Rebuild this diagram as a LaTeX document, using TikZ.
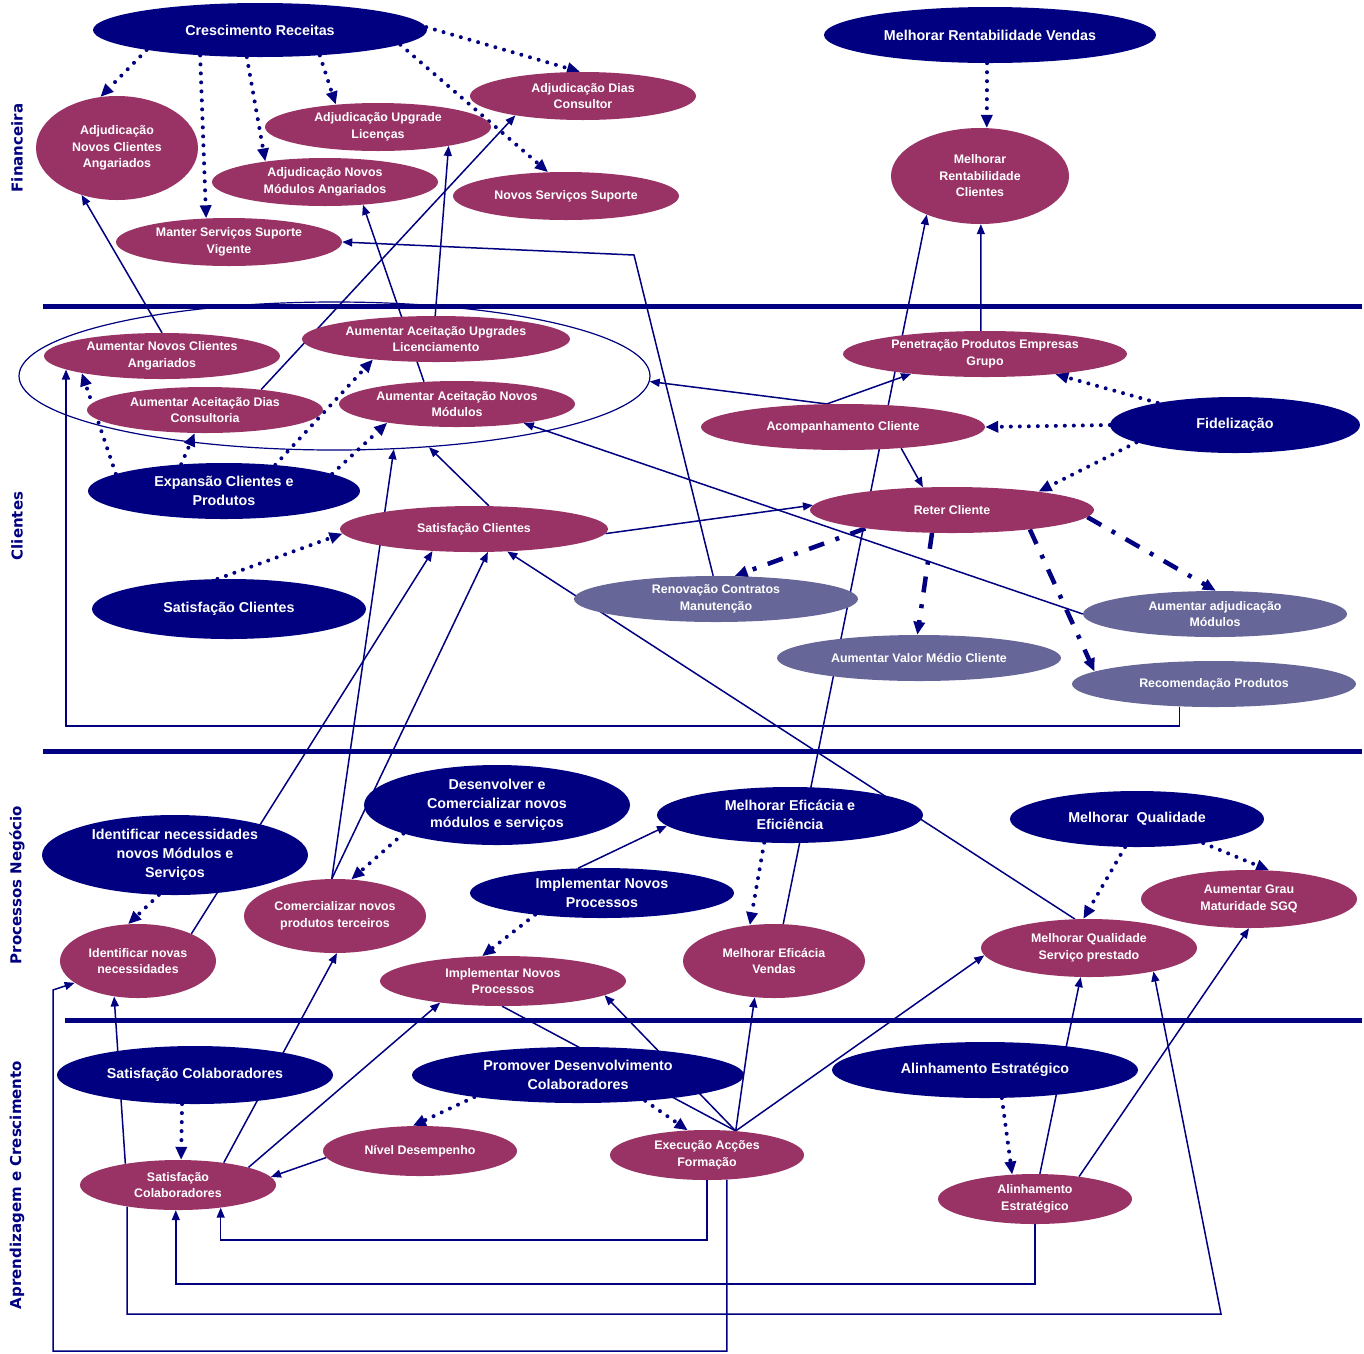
\documentclass[tikz,border=0pt]{standalone}
\usepackage{fontspec}
\setmainfont{Liberation Sans}
\newfontfamily\sidefamily{DejaVu Sans}
\usetikzlibrary{shapes.geometric,arrows.meta}
\definecolor{navy}{HTML}{000080}
\definecolor{plum}{HTML}{993366}
\definecolor{slate}{HTML}{666699}
\newcommand\dkfont{\fontsize{14.3}{19}\selectfont\bfseries}
\newcommand\mgfont{\fontsize{12.4}{16.5}\selectfont\bfseries}
\newcommand\labfont{\sidefamily\fontsize{15}{18}\selectfont\bfseries}
\pgfdeclarelayer{bg}
\pgfsetlayers{bg,main}
\tikzset{
  sz/.style 2 args={minimum width=#1pt, minimum height=#2pt},
  obj/.style={ellipse, inner sep=0pt, align=center, text=white},
  dk/.style={obj, fill=navy, font=\dkfont},
  mg/.style={obj, fill=plum, font=\mgfont},
  lv/.style={obj, fill=slate, font=\mgfont},
  ring/.style={ellipse, inner sep=0pt, draw=navy, line width=1.2pt},
  lab/.style={rotate=90, text=navy, font=\labfont},
  sepline/.style={draw=navy, line width=5pt},
  link/.style={draw=navy, line width=1.5pt, -{Triangle[length=10pt,width=8pt]}},
  plain/.style={draw=navy, line width=1.5pt},
  dots/.style={draw=navy, line width=4pt, line cap=round, dash pattern=on 0pt off 9pt,
    -{Triangle[length=13pt,width=11pt]}},
  dashdot/.style={draw=navy, line width=4.5pt, dash pattern=on 16pt off 12pt on 4pt off 12pt,
    -{Triangle[length=13pt,width=11pt]}}
}
\begin{document}
\begin{tikzpicture}[x=1pt,y=-1pt]
\useasboundingbox (0,0) rectangle (1364,1353);

% perspective labels
\node[lab] (lfin) at (17,148) {Financeira};
\node[lab] (lcli) at (17,526) {Clientes};
\node[lab] (lpro) at (17,885) {Processos Negócio};
\node[lab] (lapr) at (17,1185) {Aprendizagem e Crescimento};

% ---------- Financeira ----------
\node[dk,sz={334}{54}] (CR) at (260,30) {Crescimento Receitas};
\node[dk,sz={332}{56}] (MRV) at (990,35) {Melhorar Rentabilidade Vendas};
\node[mg,sz={162}{104}] (ANCA) at (117,148) {Adjudicação\\Novos Clientes\\Angariados};
\node[mg,sz={226}{48}] (AUL) at (378,127) {Adjudicação Upgrade\\Licenças};
\node[mg,sz={226}{48}] (ADC) at (583,96) {Adjudicação Dias\\Consultor};
\node[mg,sz={226}{48}] (ANMA) at (325,182) {Adjudicação Novos\\Módulos Angariados};
\node[mg,sz={226}{48}] (NSS) at (566,196) {Novos Serviços Suporte};
\node[mg,sz={226}{48}] (MSSV) at (229,242) {Manter Serviços Suporte\\Vigente};
\node[mg,sz={178}{96}] (MRC) at (980,176) {Melhorar\\Rentabilidade\\Clientes};

% ---------- Clientes ----------
\node[ring,sz={631}{148}] (BIG) at (334.5,376) {};
\node[mg,sz={236}{46}] (ANC2) at (162,356) {Aumentar Novos Clientes\\Angariados};
\node[mg,sz={268}{46}] (AAUL) at (436,339) {Aumentar Aceitação Upgrades\\Licenciamento};
\node[mg,sz={236}{46}] (AADC) at (205,410) {Aumentar Aceitação Dias\\Consultoria};
\node[mg,sz={236}{46}] (AANM) at (457,404) {Aumentar Aceitação Novos\\Módulos};
\node[dk,sz={272}{56}] (ECP) at (224,491) {Expansão Clientes e\\Produtos};
\node[mg,sz={268}{46}] (SC) at (474,529) {Satisfação Clientes};
\node[dk,sz={274}{60}] (SCd) at (229,609) {Satisfação Clientes};
\node[mg,sz={284}{46}] (PPEG) at (985,354) {Penetração Produtos Empresas\\Grupo};
\node[mg,sz={284}{46}] (AC) at (843,427) {Acompanhamento Cliente};
\node[dk,sz={250}{56}] (Fid) at (1235,425) {Fidelização};
\node[mg,sz={284}{46}] (RC) at (952,510) {Reter Cliente};
\node[lv,sz={284}{46}] (RCM) at (716,599) {Renovação Contratos\\Manutenção};
\node[lv,sz={284}{46}] (AVMC) at (919,658) {Aumentar Valor Médio Cliente};
\node[lv,sz={264}{46}] (AAM) at (1215,614) {Aumentar adjudicação\\Módulos};
\node[lv,sz={284}{46}] (RP) at (1214,684) {Recomendação Produtos};

% ---------- Processos Negócio ----------
\node[dk,sz={266}{80}] (INMS) at (175,855) {Identificar necessidades\\novos Módulos e\\Serviços};
\node[dk,sz={266}{80}] (DCN) at (497,805) {Desenvolver e\\Comercializar novos\\módulos e serviços};
\node[dk,sz={264}{50}] (INP) at (602,893) {Implementar Novos\\Processos};
\node[dk,sz={266}{56}] (MEE) at (790,815) {Melhorar Eficácia e\\Eficiência};
\node[dk,sz={254}{56}] (MQ) at (1137,819) {Melhorar \ Qualidade};
\node[mg,sz={216}{58}] (AGMS) at (1249,899) {Aumentar Grau\\Maturidade SGQ};
\node[mg,sz={156}{74}] (INN) at (138,961) {Identificar novas\\necessidades};
\node[mg,sz={182}{74}] (CNPT) at (335,916) {Comercializar novos\\produtos terceiros};
\node[mg,sz={246}{50}] (INP2) at (503,981) {Implementar Novos\\Processos};
\node[mg,sz={182}{74}] (MEV) at (774,961) {Melhorar Eficácia\\Vendas};
\node[mg,sz={216}{58}] (MQSP) at (1089,948) {Melhorar Qualidade\\Serviço prestado};

% ---------- Aprendizagem e Crescimento ----------
\node[dk,sz={276}{58}] (SCol) at (195,1075) {Satisfação Colaboradores};
\node[dk,sz={332}{56}] (PDC) at (578,1075) {Promover Desenvolvimento\\Colaboradores};
\node[dk,sz={306}{56}] (AE) at (985,1070) {Alinhamento Estratégico};
\node[mg,sz={196}{50}] (SCol2) at (178,1185) {Satisfação\\Colaboradores};
\node[mg,sz={194}{50}] (ND) at (420,1151) {Nível Desempenho};
\node[mg,sz={194}{50}] (EAF) at (707,1155) {Execução Acções\\Formação};
\node[mg,sz={194}{50}] (AE2) at (1035,1199) {Alinhamento\\Estratégico};

% routing points
\coordinate (w1) at (634,255);
\coordinate (b1) at (66,726);
\coordinate (b2) at (53,1351);
\coordinate (b3) at (53,990);
\coordinate (b4) at (0,1240);
\coordinate (b5) at (0,1284);
\coordinate (b6) at (0,1314);
\coordinate (b7) at (1221,1314);

\begin{pgfonlayer}{bg}
% perspective separators
\draw[sepline] (43,306) -- (1362,306);
\draw[sepline] (43,751) -- (1362,751);
\draw[sepline] (65,1020) -- (1362,1020);

% dotted: objective to indicator
\draw[dots] (CR.190) -- (ANCA.108);
\draw[dots] (CR.203) -- (MSSV.134);
\draw[dots] (CR.244) -- (ANMA.161);
\draw[dots] (CR.337) -- (AUL.152);
\draw[dots] (CR.354) -- (NSS.127);
\draw[dots] (CR.1) -- (ADC.97);
\draw[dots] (MRV.264) -- (MRC.82);
\draw[dots] (ECP.171) -- (ANC2.192);
\draw[dots] (ECP.148) -- (AADC.246);
\draw[dots] (ECP.27) -- (AAUL.198);
\draw[dots] (ECP.9) -- (AANM.195);
\draw[dots] (SCd.111) -- (SC.182);
\draw[dots] (Fid.164) -- (PPEG.344);
\draw[dots] (Fid.west) -- (AC.east);
\draw[dots] (Fid.190) -- (RC.12);
\draw[dots] (INMS.248) -- (INN.105);
\draw[dots] (DCN.197) -- (CNPT.66);
\draw[dots] (INP.198) -- (INP2.130);
\draw[dots] (MEE.227) -- (MEV.124);
\draw[dots] (MQ.247) -- (MQSP.101);
\draw[dots] (MQ.340) -- (AGMS.55);
\draw[dots] (SCol.246) -- (SCol2.83);
\draw[dots] (PDC.192) -- (ND.106);
\draw[dots] (PDC.339) -- (EAF.128);
\draw[dots] (AE.301) -- (AE2.133);

% dash-dot from Reter Cliente
\draw[dashdot] (RC.192) -- (RCM.51);
\draw[dashdot] (RC.229) -- (AVMC.94);
\draw[dashdot] (RC.346) -- (RP.174);
\draw[dashdot] (RC.357) -- (AAM.88);

% cause and effect links
\draw[link] (ANC2.north) -- (ANCA.233);
\draw[link] (AADC.20) -- (ADC.196);
\draw[link] (AANM.146) -- (ANMA.329);
\draw[link] (AAUL.92) -- (AUL.345);
\draw[link] (RCM.97) -- (w1) -- (MSSV.east);
\draw[link] (PPEG.100) -- (MRC.271);
\draw[link] (MEV.76) -- (MRC.216);
\draw[link] (AC.125) -- (BIG.359);
\draw[link] (AC.125) -- (PPEG.195);
\draw[link] (AC.340) -- (RC.142);
\draw[link] (SC.358) -- (RC.178);
\draw[link] (SC.57) -- (BIG.323);
\draw[link] (AAM.west) -- (AANM.344);
\draw[link] (RP.213) -- (RP.213 |- b1) -- (b1) -- (b1 |- ANC2.188);
\draw[link] (CNPT.95) -- (BIG.309);
\draw[link] (CNPT.95) -- (SC.301);
\draw[link] (INN.27) -- (SC.208);
\draw[link] (SCol2.26) -- (CNPT.273);
\draw[link] (SCol2.14) -- (INP2.199);
\draw[link] (SCol2.158) -- (INN.236);
\draw[link] (EAF.309) -- (EAF.309 |- b2) -- (b2) -- (b3) -- (INN.199);
\draw[link] (EAF.south) -- (EAF.south |- b4) -| (SCol2.332);
\draw[link] (AE2.south) -- (AE2.south |- b5) -| (SCol2.265);
\draw[link] (SCol2.203) -- (SCol2.203 |- b6) -- (b7) -- (MQSP.340);
\draw[link] (ND.184) -- (SCol2.5);
\draw[link] (EAF.40) -- (INP2.352);
\draw[link] (EAF.40) -- (MEV.242);
\draw[link] (EAF.40) -- (MQSP.184);
\draw[plain] (INP2.268) -- (EAF.40);
\draw[link] (AE2.79) -- (MQSP.254);
\draw[link] (AE2.27) -- (AGMS.south);
\draw[link] (MQSP.116) -- (SC.326);
\draw[link] (INP.134) -- (MEE.185);
\end{pgfonlayer}
\end{tikzpicture}
\end{document}
